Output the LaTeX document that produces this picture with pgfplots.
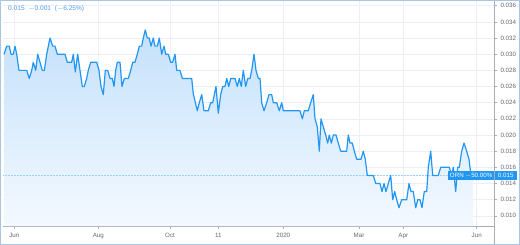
\documentclass[border=0pt]{standalone}
\usepackage{pgfplots}
\pgfplotsset{compat=1.18}
\usepackage{fontspec}
\setmainfont{Liberation Sans}
\definecolor{tvblue}{RGB}{33,150,243}
\definecolor{gridc}{RGB}{236,239,246}
\definecolor{axc}{RGB}{170,174,184}
\definecolor{labc}{RGB}{100,104,116}
\definecolor{filltop}{RGB}{196,225,251}
\definecolor{fillbot}{RGB}{244,249,255}
\definecolor{framec}{RGB}{170,196,232}
\definecolor{toptext}{RGB}{80,155,235}
\begin{document}
\begin{tikzpicture}
\fill[white] (-3pt,-18.3pt) rectangle (517pt,225.7pt);
\begin{axis}[
  at={(0,0)}, anchor=south west,
  scale only axis, width=491pt, height=225.7pt,
  xmin=3, xmax=494, ymin=0.00874, ymax=0.03667,
  axis x line*=bottom, axis y line*=right,
  axis line style={axc, line width=0.6pt},
  xtick={14.3,98.3,170,218.3,283.3,359,403.3,476.7},
  xticklabels={Jun,Aug,Oct,11,2020,Mar,Apr,Jun},
  ytick={0.010,0.012,0.014,0.016,0.018,0.020,0.022,0.024,0.026,0.028,0.030,0.032,0.034,0.036},
  yticklabels={0.010,0.012,0.014,0.016,0.018,0.020,0.022,0.024,0.026,0.028,0.030,0.032,0.034,0.036},
  scaled y ticks=false,
  grid=major, major grid style={gridc, line width=0.6pt},
  tick style={axc, line width=0.5pt},
  major tick length=3pt,
  tick align=outside,
  ticklabel style={font=\fontsize{6.2}{7}\selectfont, text=labc},
  xticklabel style={yshift=-1pt},
  clip=false,
]
\addplot[draw=none, top color=filltop, bottom color=fillbot, forget plot] coordinates {
(4,0.030)(6.7,0.031)(9.3,0.031)(11,0.030)(13.3,0.030)(15,0.031)(16.7,0.030)(19,0.028)(26.7,0.028)(29.3,0.027)(31.7,0.028)(33.3,0.029)(35.7,0.028)(37.7,0.030)(40,0.029)(42.3,0.028)(44.3,0.028)(46.7,0.030)(50,0.032)(52.7,0.031)(55,0.031)(57.3,0.030)(65,0.030)(67.3,0.029)(71.7,0.029)(73.3,0.030)(75.3,0.0278)(77.7,0.030)(80,0.028)(82.3,0.026)(84.3,0.026)(86.7,0.027)(88.3,0.028)(90.7,0.029)(96.7,0.029)(99,0.028)(101,0.026)(103.3,0.025)(105.3,0.028)(107.7,0.028)(110,0.027)(112.3,0.027)(114,0.026)(115.7,0.028)(117.3,0.029)(120,0.029)(122,0.026)(124.3,0.027)(128.3,0.027)(130.7,0.028)(132.7,0.029)(135,0.029)(137.3,0.030)(139.3,0.031)(141.7,0.031)(143.3,0.032)(145.3,0.033)(147.3,0.032)(149.3,0.032)(151,0.031)(153.3,0.032)(155,0.031)(157.3,0.031)(159.3,0.032)(161.7,0.030)(164,0.031)(165.7,0.030)(168.3,0.030)(170.7,0.029)(172.7,0.029)(175,0.030)(176.7,0.028)(180,0.028)(182.3,0.027)(191.7,0.027)(193.3,0.0251)(197.3,0.023)(199.3,0.024)(201.7,0.025)(204,0.023)(208.3,0.023)(210.7,0.024)(212.7,0.024)(216,0.026)(218.3,0.0227)(220.7,0.025)(222.7,0.026)(225,0.026)(226.7,0.027)(228.7,0.026)(230.7,0.027)(235,0.027)(237.3,0.026)(239.3,0.027)(241.3,0.026)(243.3,0.028)(245.7,0.026)(247.7,0.027)(250,0.027)(251.7,0.028)(254,0.030)(256,0.028)(258.3,0.027)(260,0.027)
(261.7,0.024)(264,0.023)(266.7,0.024)(269,0.025)(271.7,0.025)(273.3,0.024)(276.7,0.024)(279.3,0.023)(281.7,0.024)(283.3,0.023)(300,0.023)(302.3,0.022)(304.3,0.023)(308.3,0.023)(310.7,0.024)(313.3,0.025)(315,0.022)(317.3,0.021)(319.3,0.018)(321,0.022)(323.3,0.021)(325.7,0.020)(327.7,0.019)(329.3,0.020)(331.3,0.019)(333.3,0.020)(336,0.020)(338.3,0.019)(340.7,0.018)(346.7,0.018)(348.3,0.020)(350,0.019)(352.3,0.019)(354.3,0.018)(356.7,0.017)(361,0.017)(363.3,0.018)(365.3,0.017)(367.3,0.015)(373.3,0.015)(375.7,0.014)(380,0.014)(382,0.013)(384,0.014)(386,0.013)(388.3,0.014)(390.7,0.015)(392.7,0.012)(394.7,0.013)(396.7,0.012)(399,0.011)(401.7,0.012)(406.7,0.012)(409,0.014)(411,0.013)(413.3,0.013)(415.7,0.011)(417.7,0.012)(420,0.012)(422,0.011)(424.3,0.013)(426.7,0.013)(428.3,0.016)(430.7,0.018)(432.7,0.015)(438.3,0.015)(440.7,0.016)(449.3,0.016)(451.7,0.015)(453.3,0.016)(455.7,0.013)(457.7,0.016)(459.3,0.016)(461.7,0.018)(464,0.019)(466.7,0.018)(469,0.017)(471,0.015)(473,0.015)
} \closedcycle;
\addplot[tvblue!45, densely dotted, line width=0.5pt, forget plot] coordinates {(3,0.015)(494,0.015)};
\addplot[tvblue, line width=1.2pt, line join=round] coordinates {
(4,0.030)(6.7,0.031)(9.3,0.031)(11,0.030)(13.3,0.030)(15,0.031)(16.7,0.030)(19,0.028)(26.7,0.028)(29.3,0.027)(31.7,0.028)(33.3,0.029)(35.7,0.028)(37.7,0.030)(40,0.029)(42.3,0.028)(44.3,0.028)(46.7,0.030)(50,0.032)(52.7,0.031)(55,0.031)(57.3,0.030)(65,0.030)(67.3,0.029)(71.7,0.029)(73.3,0.030)(75.3,0.0278)(77.7,0.030)(80,0.028)(82.3,0.026)(84.3,0.026)(86.7,0.027)(88.3,0.028)(90.7,0.029)(96.7,0.029)(99,0.028)(101,0.026)(103.3,0.025)(105.3,0.028)(107.7,0.028)(110,0.027)(112.3,0.027)(114,0.026)(115.7,0.028)(117.3,0.029)(120,0.029)(122,0.026)(124.3,0.027)(128.3,0.027)(130.7,0.028)(132.7,0.029)(135,0.029)(137.3,0.030)(139.3,0.031)(141.7,0.031)(143.3,0.032)(145.3,0.033)(147.3,0.032)(149.3,0.032)(151,0.031)(153.3,0.032)(155,0.031)(157.3,0.031)(159.3,0.032)(161.7,0.030)(164,0.031)(165.7,0.030)(168.3,0.030)(170.7,0.029)(172.7,0.029)(175,0.030)(176.7,0.028)(180,0.028)(182.3,0.027)(191.7,0.027)(193.3,0.0251)(197.3,0.023)(199.3,0.024)(201.7,0.025)(204,0.023)(208.3,0.023)(210.7,0.024)(212.7,0.024)(216,0.026)(218.3,0.0227)(220.7,0.025)(222.7,0.026)(225,0.026)(226.7,0.027)(228.7,0.026)(230.7,0.027)(235,0.027)(237.3,0.026)(239.3,0.027)(241.3,0.026)(243.3,0.028)(245.7,0.026)(247.7,0.027)(250,0.027)(251.7,0.028)(254,0.030)(256,0.028)(258.3,0.027)(260,0.027)
(261.7,0.024)(264,0.023)(266.7,0.024)(269,0.025)(271.7,0.025)(273.3,0.024)(276.7,0.024)(279.3,0.023)(281.7,0.024)(283.3,0.023)(300,0.023)(302.3,0.022)(304.3,0.023)(308.3,0.023)(310.7,0.024)(313.3,0.025)(315,0.022)(317.3,0.021)(319.3,0.018)(321,0.022)(323.3,0.021)(325.7,0.020)(327.7,0.019)(329.3,0.020)(331.3,0.019)(333.3,0.020)(336,0.020)(338.3,0.019)(340.7,0.018)(346.7,0.018)(348.3,0.020)(350,0.019)(352.3,0.019)(354.3,0.018)(356.7,0.017)(361,0.017)(363.3,0.018)(365.3,0.017)(367.3,0.015)(373.3,0.015)(375.7,0.014)(380,0.014)(382,0.013)(384,0.014)(386,0.013)(388.3,0.014)(390.7,0.015)(392.7,0.012)(394.7,0.013)(396.7,0.012)(399,0.011)(401.7,0.012)(406.7,0.012)(409,0.014)(411,0.013)(413.3,0.013)(415.7,0.011)(417.7,0.012)(420,0.012)(422,0.011)(424.3,0.013)(426.7,0.013)(428.3,0.016)(430.7,0.018)(432.7,0.015)(438.3,0.015)(440.7,0.016)(449.3,0.016)(451.7,0.015)(453.3,0.016)(455.7,0.013)(457.7,0.016)(459.3,0.016)(461.7,0.018)(464,0.019)(466.7,0.018)(469,0.017)(471,0.015)
};
\node[fill=tvblue, text=white, inner sep=1.5pt, anchor=east, minimum height=8.5pt,
      font=\fontsize{6.2}{7}\selectfont] at (axis cs:494,0.015) {ORN $-$50.00\%};
\node[fill=tvblue, text=white, inner sep=1.5pt, anchor=west, minimum height=8.5pt, minimum width=23pt,
      font=\fontsize{6.2}{7}\selectfont] at (axis cs:494,0.015) {0.015};
\node[anchor=west, text=toptext, font=\fontsize{6.6}{7}\selectfont, inner sep=0pt] at (axis cs:8,0.0356) {0.015 \ $-$0.001 \ ($-$6.25\%)};
\end{axis}
\draw[axc, line width=0.6pt] (491pt,225.7pt) -- (491pt,-18.3pt);
\draw[framec, line width=0.8pt] (-2.6pt,-17.9pt) rectangle (516.6pt,225.3pt);
\end{tikzpicture}
\end{document}
